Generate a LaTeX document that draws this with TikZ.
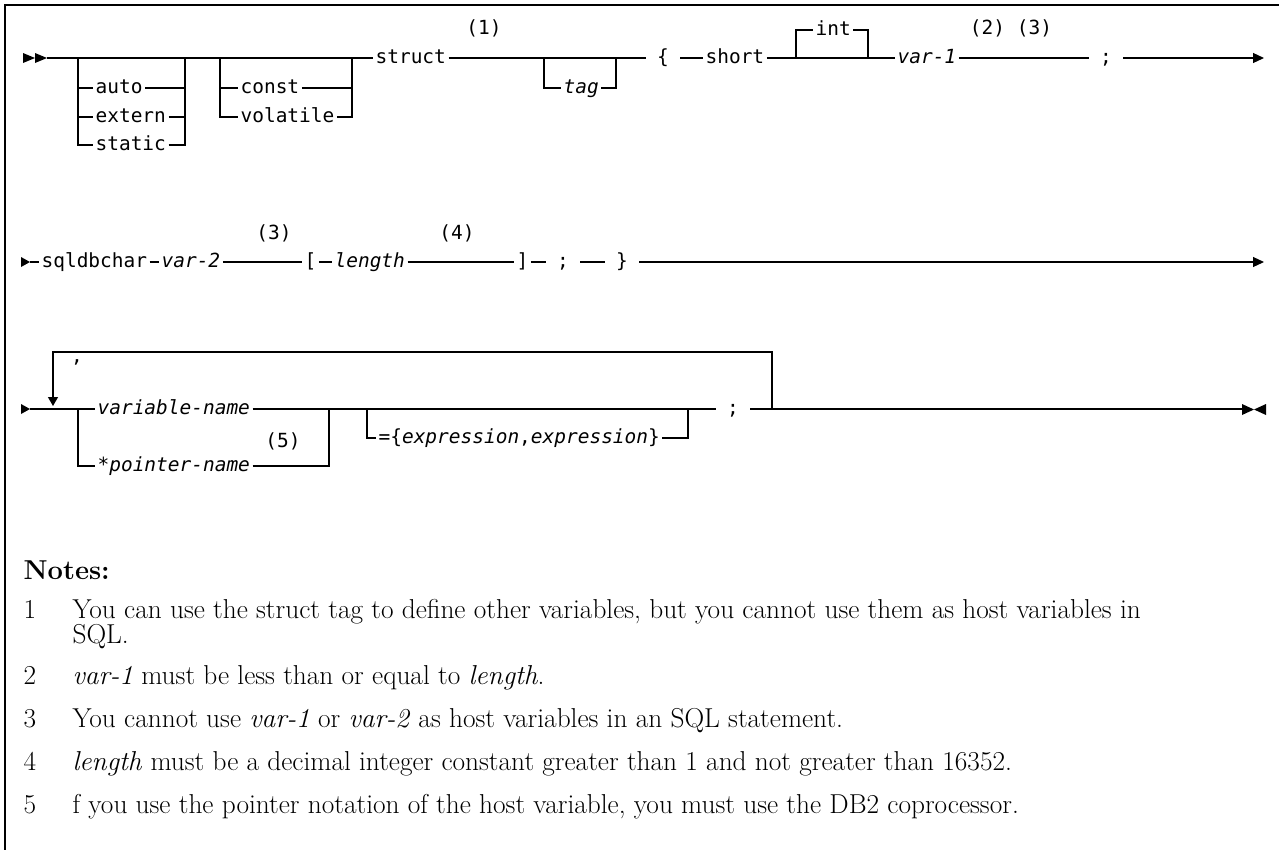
\documentclass[tikz,border=0pt]{standalone}
\usepackage{fontspec}
\newfontfamily\railfont{DejaVu Sans Mono}
\usetikzlibrary{arrows.meta}

\begin{document}
\begin{tikzpicture}[
    x=0.75pt, y=-0.75pt,
    line width=0.9pt,
    rail/.style={font=\railfont\fontsize{14.6}{17}\selectfont, anchor=west, inner xsep=1.5pt, inner ysep=0pt, text height=12pt, text depth=4pt},
    railit/.style={rail, font=\railfont\itshape\fontsize{14.6}{17}\selectfont},
    punct/.style={rail, anchor=center, inner xsep=8pt},
    fnote/.style={font=\railfont\fontsize{14.6}{17}\selectfont, inner sep=0pt},
    note/.style={font=\fontsize{20.5}{24}\selectfont, anchor=base west, inner sep=0pt},
    notehead/.style={note, font=\bfseries\fontsize{20.5}{24}\selectfont},
    tip/.style={-{Triangle[length=8.25pt,width=7.5pt]}},
]
\useasboundingbox (0,0) rectangle (1279,850);
\draw (5,850) -- (5,5) -- (1279,5);

% first line
\fill (23,53) -- (35,58) -- (23,63) -- cycle;
\fill (35,53) -- (47,58) -- (35,63) -- cycle;
\coordinate (r1start) at (47,58);
\node[rail] (struct) at (373,58) {struct};
\draw (r1start) -- (struct.west);

\coordinate (scl) at (78,58);
\coordinate (scr) at (185,58);
\node[rail] (auto) at (93,88) {auto};
\node[rail] (extern) at (93,117) {extern};
\node[rail] (static) at (93,145) {static};
\draw (scl) |- (static.west);
\draw (static.east) -| (scr);
\draw (scl |- auto) -- (auto.west);
\draw (auto.east) -- (scr |- auto);
\draw (scl |- extern) -- (extern.west);
\draw (extern.east) -- (scr |- extern);

\coordinate (qul) at (220,58);
\coordinate (qur) at (352,58);
\node[rail] (const) at (238,88) {const};
\node[rail] (volatile) at (238,117) {volatile};
\draw (qul) |- (volatile.west);
\draw (volatile.east) -| (qur);
\draw (qul |- const) -- (const.west);
\draw (const.east) -- (qur |- const);

\node[fnote] (n1) at (484,28) {(1)};
\coordinate (tgl) at (544,58);
\coordinate (tgr) at (616,58);
\node[railit] (tag) at (561,88) {tag};
\draw (tgl) |- (tag.west);
\draw (tag.east) -| (tgr);
\node[punct] (obrace) at (663,58) {\{};
\draw (struct.east) -- (obrace.west);

\node[rail] (short) at (703,58) {short};
\draw (obrace.east) -- (short.west);
\coordinate (inl) at (796,58);
\coordinate (inr) at (868,58);
\node[rail] (int) at (813,30) {int};
\draw (inl) |- (int.west);
\draw (int.east) -| (inr);
\node[railit] (var1) at (895,58) {var-1};
\draw (short.east) -- (var1.west);
\node[fnote] (n23) at (1011,28) {(2) (3)};
\node[punct] (semi1) at (1106,58) {;};
\draw (var1.east) -- (semi1.west);
\coordinate (r1end) at (1264,58);
\draw[tip] (semi1.east) -- (r1end);

% second line
\fill (21,257) -- (30,262) -- (21,267) -- cycle;
\coordinate (r2start) at (30,262);
\node[rail] (sqldbchar) at (39,262) {sqldbchar};
\draw (r2start) -- (sqldbchar.west);
\node[railit] (var2) at (159,262) {var-2};
\draw (sqldbchar.east) -- (var2.west);
\node[fnote] (n3) at (274,233) {(3)};
\node[rail] (obrack) at (302,262) {[};
\draw (var2.east) -- (obrack.west);
\node[railit] (length) at (332,262) {length};
\draw (obrack.east) -- (length.west);
\node[fnote] (n4) at (457,233) {(4)};
\node[rail] (cbrack) at (514,262) {]};
\draw (length.east) -- (cbrack.west);
\node[punct] (semi2) at (563,262) {;};
\draw (cbrack.east) -- (semi2.west);
\node[punct] (cbrace) at (622,262) {\}};
\draw (semi2.east) -- (cbrace.west);
\coordinate (r2end) at (1264,262);
\draw[tip] (cbrace.east) -- (r2end);

% third line
\fill (21,404) -- (30,409) -- (21,414) -- cycle;
\coordinate (r3start) at (30,409);
\coordinate (vnl) at (78,409);
\coordinate (vnr) at (329,409);
\node[railit] (varname) at (95,409) {variable-name};
\node[railit] (ptrname) at (95,466) {*pointer-name};
\node[fnote] (n5) at (283,441) {(5)};
\draw (r3start) -- (varname.west);
\draw (vnl) |- (ptrname.west);
\draw (ptrname.east) -| (vnr);
\coordinate (exl) at (367,409);
\coordinate (exr) at (688,409);
\node[rail] (init) at (376,438) {=\{\textit{expression},\textit{expression}\}};
\draw (exl) |- (init.west);
\draw (init.east) -| (exr);
\node[punct] (semi3) at (733,409) {;};
\draw (varname.east) -- (semi3.west);
\coordinate (r3end) at (1242,409);
\draw (semi3.east) -- (r3end);
\fill (1242,404) -- (1254,409.5) -- (1242,415) -- cycle;
\fill (1266,404) -- (1254,409.5) -- (1266,415) -- cycle;
\coordinate (lpr) at (772,409);
\coordinate (lpl) at (53,406);
\draw[-{Triangle[length=6.75pt,width=7.5pt]}] (lpr) -- ++(0,-57) -| (lpl);
\node[fnote] (comma) at (77,362) {,};

% notes
\node[notehead] (notes) at (23,579) {Notes:};
\node[note] (num1) at (23,618) {1};
\node[note] (txt1) at (72,618) {You can use the struct tag to define other variables, but you cannot use them as host variables in};
\node[note] (txt1b) at (72,643) {SQL.};
\node[note] (num2) at (23,684) {2};
\node[note] (txt2) at (72,684) {\textit{var-1} must be less than or equal to \textit{length}.};
\node[note] (num3) at (23,727) {3};
\node[note] (txt3) at (72,727) {You cannot use \textit{var-1} or \textit{var-2} as host variables in an SQL statement.};
\node[note] (num4) at (23,770) {4};
\node[note] (txt4) at (72,770) {\textit{length} must be a decimal integer constant greater than 1 and not greater than 16352.};
\node[note] (num5) at (23,813) {5};
\node[note] (txt5) at (72,813) {f you use the pointer notation of the host variable, you must use the DB2 coprocessor.};
\end{tikzpicture}
\end{document}
